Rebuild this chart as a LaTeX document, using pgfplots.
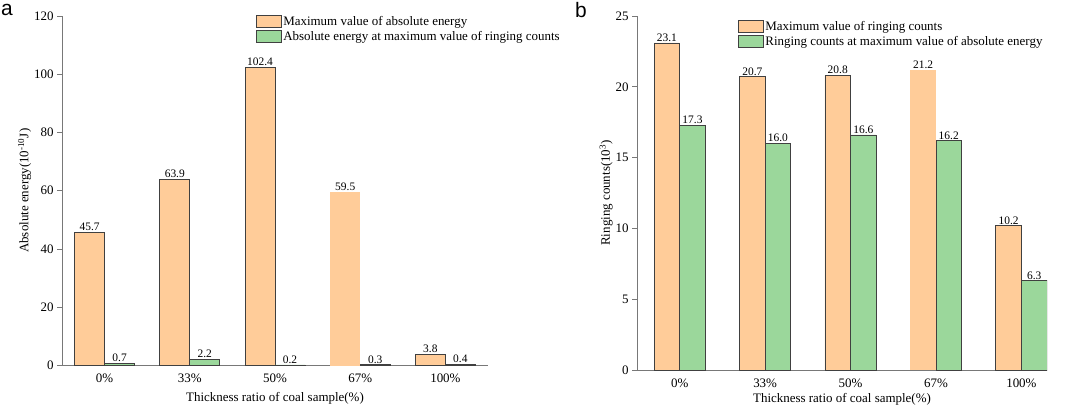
\documentclass[border=0pt]{standalone}
\usepackage{pgfplots}
\pgfplotsset{compat=1.18}
\usepackage{fontspec}
\setmainfont{Liberation Serif}
\newfontfamily\panelfont{Liberation Sans}
\definecolor{barorange}{RGB}{255,204,153}
\definecolor{bargreen}{RGB}{155,215,155}
\definecolor{axgray}{RGB}{120,120,120}
\pgfplotsset{
  myaxis/.style={
    scale only axis,
    ybar,
    ymin=0,
    xmin=-0.5,
    axis x line*=bottom,
    axis y line*=left,
    axis line style={-, draw=axgray, line width=0.8bp},
    xtick={0,1,2,3,4},
    xticklabels={0\%,33\%,50\%,67\%,100\%},
    x tick style={draw=none},
    y tick style={draw=axgray, line width=0.8bp},
    tick align=outside,
    major tick length=5bp,
    /pgf/number format/assume math mode=true,
    ticklabel style={font=\fontsize{13}{15}\selectfont},
    label style={font=\fontsize{13}{15}\selectfont},
    nodes near coords={\pgfmathprintnumber[fixed,fixed zerofill,precision=1]{\pgfplotspointmeta}},
    every node near coord/.append style={font=\fontsize{11.5}{13}\selectfont, inner sep=1bp},
    legend cell align=left,
    legend style={draw=none, fill=none, inner sep=0pt, font=\fontsize{13}{15}\selectfont,
      row sep=1.5bp, nodes={inner sep=1.5bp}},
    legend image code/.code={\draw[#1, line width=0.8bp] (0bp,-6bp) rectangle (25bp,6bp);},
  },
  obar/.style={fill=barorange, draw=black!75, line width=0.8bp},
  gbar/.style={fill=bargreen, draw=black!75, line width=0.8bp},
}
\begin{document}
\begin{tikzpicture}
\useasboundingbox (0bp,0bp) rectangle (1065bp,-405bp);
\node[anchor=north west, inner sep=0pt, font=\panelfont\fontsize{21}{23}\selectfont] at (1bp,-4bp) {a};
\node[anchor=north west, inner sep=0pt, font=\panelfont\fontsize{21}{23}\selectfont] at (575bp,-2bp) {b};
% ---------- panel a ----------
\begin{axis}[myaxis,
  at={(62bp,-365.5bp)}, anchor=south west,
  width=426bp, height=349.5bp,
  xmax=4.5, ymax=120, ytick={0,20,40,60,80,100,120},
  bar width=30bp,
  xlabel={Thickness ratio of coal sample(\%)},
  xlabel style={yshift=-2.5bp},
  ylabel={Absolute energy(10\textsuperscript{-10}J)},
  ylabel style={yshift=-4bp},
  legend style={at={(0.455,1.005)}, anchor=north west},
]
\addplot[bar shift=-15bp, obar] coordinates {(0,45.7) (1,63.9) (2,102.4) (4,3.8)};
\addlegendentry{Maximum value of absolute energy}
\addplot[bar shift=15bp, gbar] coordinates {(0,0.7) (1,2.2) (2,0.2) (3,0.3) (4,0.4)};
\addlegendentry{Absolute energy at maximum value of ringing counts}
\addplot[bar shift=-15bp, fill=barorange, draw=none, forget plot] coordinates {(3,59.5)};
\end{axis}
% ---------- panel b ----------
\begin{axis}[myaxis,
  at={(637bp,-370bp)}, anchor=south west,
  width=410bp, height=354bp,
  xmax=4.3, ymax=25, ytick={0,5,10,15,20,25},
  bar width=25.6bp,
  xlabel={Thickness ratio of coal sample(\%)},
  xlabel style={yshift=1bp},
  ylabel={Ringing counts(10\textsuperscript{3})},
  ylabel style={yshift=-4bp},
  legend style={at={(0.246,0.99)}, anchor=north west},
]
\addplot[bar shift=-12.8bp, obar] coordinates {(0,23.1) (1,20.7) (2,20.8) (4,10.2)};
\addlegendentry{Maximum value of ringing counts}
\addplot[bar shift=12.8bp, gbar] coordinates {(0,17.3) (1,16.0) (2,16.6) (3,16.2) (4,6.3)};
\addlegendentry{Ringing counts at maximum value of absolute energy}
\addplot[bar shift=-12.8bp, fill=barorange, draw=none, forget plot] coordinates {(3,21.2)};
\end{axis}
\end{tikzpicture}
\end{document}
